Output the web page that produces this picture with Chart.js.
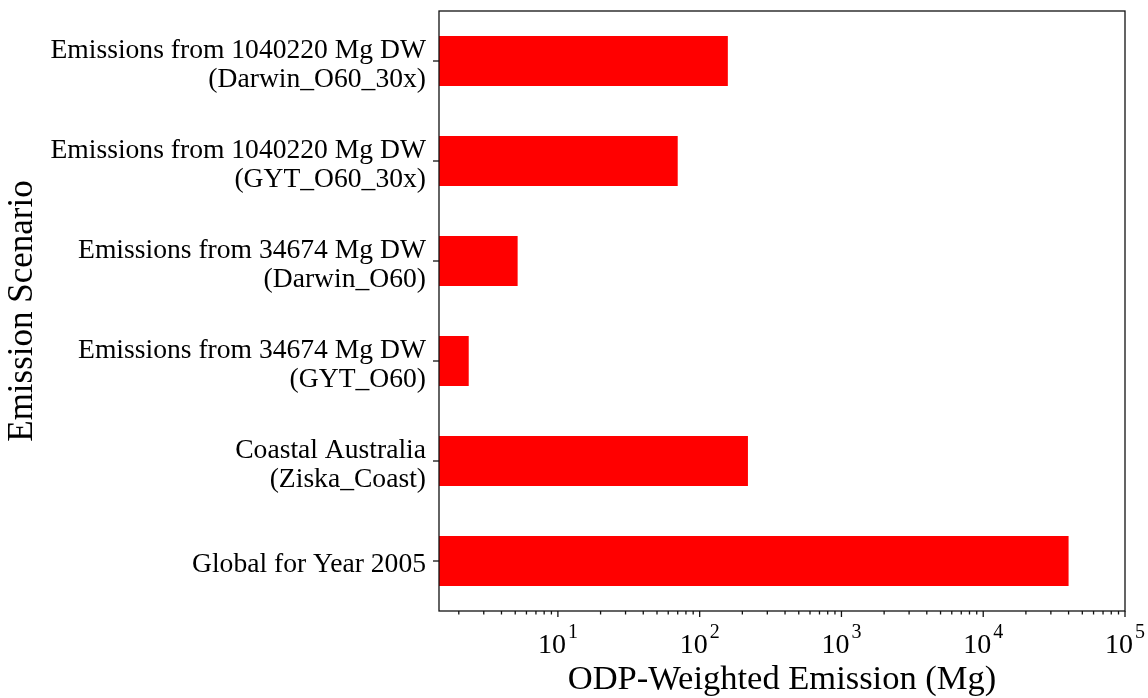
<!DOCTYPE html>
<html>
<head>
<meta charset="utf-8">
<script src="https://cdn.jsdelivr.net/npm/chart.js@4.4.1/dist/chart.umd.min.js"></script>
<style>
  html, body { margin: 0; padding: 0; background: #fff; }
</style>
</head>
<body>
<canvas id="barChart" width="1148" height="698"></canvas>
<script>
// scenarios, top to bottom as in the figure
const scenarios = [
  ['Emissions from 1040220 Mg DW', '(Darwin_O60_30x)'],
  ['Emissions from 1040220 Mg DW', '(GYT_O60_30x)'],
  ['Emissions from 34674 Mg DW', '(Darwin_O60)'],
  ['Emissions from 34674 Mg DW', '(GYT_O60)'],
  ['Coastal Australia', '(Ziska_Coast)'],
  'Global for Year 2005'
];
// ODP-weighted emission (Mg)
const odpEmission = [158, 70, 5.2, 2.35, 219, 40000];
// labelled decades on the log axis: 10^exp
const decadeTicks = [10, 100, 1000, 10000, 100000];
const decadeExps = ['1', '2', '3', '4', '5'];
const xMin = 1.45;
const xMax = 100000;

const serif = "'Liberation Serif', 'Times New Roman', serif";

// frame, tick marks and 10^n labels like the matplotlib figure
const framePlugin = {
  id: 'framePlugin',
  afterDraw(chart) {
    const ctx = chart.ctx;
    const a = chart.chartArea;
    const xs = chart.scales.x;
    const ys = chart.scales.y;
    ctx.save();
    ctx.strokeStyle = '#111';
    ctx.lineWidth = 1.3;
    ctx.strokeRect(a.left, a.top, a.right - a.left, a.bottom - a.top);
    xs.ticks.forEach(t => {
      const px = xs.getPixelForValue(t.value);
      const len = decadeTicks.includes(t.value) ? 6 : 3.5;
      ctx.beginPath();
      ctx.moveTo(px, a.bottom);
      ctx.lineTo(px, a.bottom + len);
      ctx.stroke();
    });
    ys.ticks.forEach((t, i) => {
      const py = ys.getPixelForTick(i);
      ctx.beginPath();
      ctx.moveTo(a.left, py);
      ctx.lineTo(a.left - 6, py);
      ctx.stroke();
    });

    ctx.fillStyle = '#000';
    ctx.textBaseline = 'alphabetic';
    ctx.textAlign = 'left';
    decadeTicks.forEach((v, i) => {
      const px = xs.getPixelForValue(v);
      ctx.font = '28px ' + serif;
      const wBase = ctx.measureText('10').width;
      ctx.font = '20px ' + serif;
      const wExp = ctx.measureText(decadeExps[i]).width;
      const x0 = px - (wBase + 2 + wExp) / 2;
      ctx.font = '28px ' + serif;
      ctx.fillText('10', x0, a.bottom + 42);
      ctx.font = '20px ' + serif;
      ctx.fillText(decadeExps[i], x0 + wBase + 2, a.bottom + 27);
    });
    ctx.restore();
  }
};

const ctx = document.getElementById('barChart');

new Chart(ctx, {
  type: 'bar',
  data: {
    labels: scenarios,
    datasets: [{
      label: 'ODP-Weighted Emission',
      data: odpEmission,
      backgroundColor: '#ff0000',
      borderWidth: 0,
      categoryPercentage: 1,
      barPercentage: 0.5
    }]
  },
  options: {
    indexAxis: 'y',
    responsive: false,
    animation: false,
    devicePixelRatio: 1,
    layout: { padding: { top: 11, right: 23, left: 0, bottom: 0 } },
    plugins: {
      legend: { display: false },
      tooltip: { enabled: false }
    },
    scales: {
      x: {
        type: 'logarithmic',
        min: xMin,
        max: xMax,
        grid: { display: false, drawTicks: false },
        border: { display: false },
        afterBuildTicks(scale) {
          const list = [];
          for (let d = 1; d <= xMax; d *= 10) {
            for (let m = 1; m <= 9; m++) {
              const v = m * d;
              if (v >= xMin && v <= xMax) list.push({ value: v });
            }
          }
          scale.ticks = list;
        },
        afterFit(scale) {
          scale.height = 87;
          scale.paddingLeft = 0;
          scale.paddingRight = 0;
        },
        ticks: { display: false },
        title: {
          display: true,
          text: 'ODP-Weighted Emission (Mg)',
          color: '#000',
          font: { family: serif, size: 34.5, lineHeight: 1.05 },
          padding: 0
        }
      },
      y: {
        grid: { display: false, drawTicks: false },
        border: { display: false },
        afterFit(scale) {
          scale.width = 439;
          scale.paddingTop = 0;
          scale.paddingBottom = 0;
        },
        ticks: {
          padding: 13,
          labelOffset: 4,
          color: '#000',
          font: { family: serif, size: 27.6, lineHeight: 1.05 }
        },
        title: {
          display: true,
          text: 'Emission Scenario',
          color: '#000',
          font: { family: serif, size: 35, lineHeight: 1.2 },
          padding: { top: 2, bottom: 0 }
        }
      }
    }
  },
  plugins: [framePlugin]
});
</script>
</body>
</html>
